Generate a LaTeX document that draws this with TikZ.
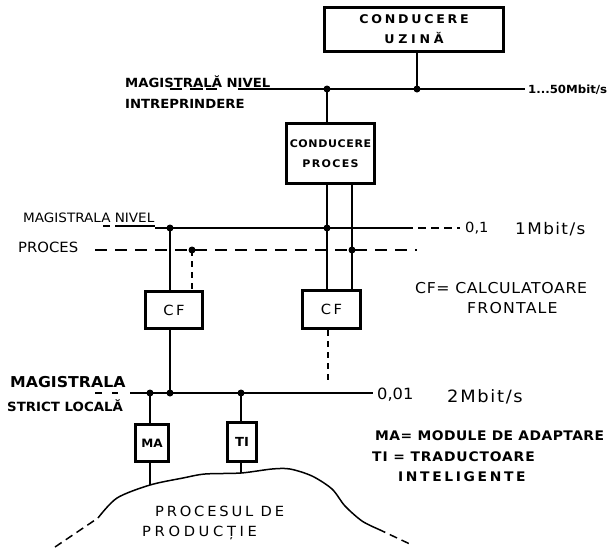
\documentclass[tikz,border=0pt]{standalone}
\usepackage{fontspec}
\newfontfamily\handfont[FakeStretch=1.05]{DejaVu Sans}
\newcommand{\hand}[2]{\handfont\fontsize{#1}{#1}\selectfont\addfontfeature{LetterSpace=#2}}
\newcommand{\handb}[2]{\handfont\bfseries\fontsize{#1}{#1}\selectfont\addfontfeature{LetterSpace=#2}}
\usetikzlibrary{positioning}
\tikzstyle{box} = [rectangle, draw=black, line width=3pt, 
inner sep=0pt, align=center]
\tikzstyle{lbl} = [inner sep=0pt, anchor=base west]
\tikzstyle{bus} = [line width=1.3pt]
\tikzstyle{link} = [line width=1.3pt]
\tikzstyle{junct} = [circle, fill=black, inner sep=0pt, minimum size=7pt]

\begin{document}
\begin{tikzpicture}[x=1pt, y=-1pt]
\useasboundingbox (0,0) rectangle (616,547);

%-------boxes-------------------
\node (uzina) [box, minimum width=179pt, minimum height=44pt, 
font=\handb{12}{23}] at (414,29.5) 
{CONDUCERE \\[8pt] {\addfontfeature{LetterSpace=31}UZINĂ}};

\node (proces) [box, minimum width=88pt, minimum height=60pt, 
font=\handb{10.5}{6}] at (330.5,153.5) 
{CONDUCERE \\[10pt] {\addfontfeature{LetterSpace=13}PROCES}};

\node (cfl) [box, minimum width=57pt, minimum height=37pt, 
font=\hand{14}{19}] at (174,310) {CF};

\node (cfr) [box, minimum width=58pt, minimum height=38pt, 
font=\hand{14}{19}] at (331.5,309.5) {CF};

\node (ma) [box, minimum width=33pt, minimum height=37pt, 
font=\handb{11.5}{0}] at (152,443) {MA};

\node (ti) [box, minimum width=29pt, minimum height=39pt, 
font=\handb{12.5}{0}] at (242,442) {TI};

%-------bus labels-------------------
\node (nivA) [lbl, font=\handb{12.6}{0}] at (125,87) {MAGISTRALĂ NIVEL};
\node (intr) [lbl, font=\handb{12.6}{0}] at (125,108) {INTREPRINDERE};
\node (rate1) [lbl, font=\handb{11.2}{0}] at (528,93) {1...50Mbit/s};

\node (nivB) [lbl, font=\hand{12.9}{0}] at (23,222) {MAGISTRALA NIVEL};
\node (proc) [lbl, font=\hand{14.1}{0}] at (18,252) {PROCES};
\node (rate2a) [lbl, font=\hand{14}{0}] at (465,232) {0,1};
\node (rate2b) [lbl, font=\hand{16}{9}] at (515,234) {1Mbit/s};

\node (magC) [lbl, font=\handb{15}{0}] at (10,387) {MAGISTRALA};
\node (loc) [lbl, font=\handb{12.7}{0}] at (7,411) {STRICT LOCALĂ};
\node (rate4a) [lbl, font=\hand{15.5}{0}] at (377,399) {0,01};
\node (rate4b) [lbl, font=\hand{17}{10}] at (447,402) {2Mbit/s};

%-------legend-------------------
\node (legcf) [lbl, font=\hand{15}{4}] at (415,293) {CF= CALCULATOARE};
\node (legcf2) [lbl, font=\hand{15}{8}] at (467,313) {FRONTALE};
\node (legma) [lbl, font=\handb{13.2}{3.5}] at (375,440) 
{MA= MODULE DE ADAPTARE};
\node (legti) [lbl, font=\handb{13.2}{6.5}] at (372,461) {TI = TRADUCTOARE};
\node (legti2) [lbl, font=\handb{13.2}{20}] at (398,481) {INTELIGENTE};

\node (prod) [lbl, font=\hand{14}{20}] at (155,516) {PROCESUL DE};
\node (prod2) [lbl, font=\hand{14}{26}] at (142,536) {PRODUCȚIE};

%-------bus coordinates-------------------
\coordinate (b1s) at (238,89);
\coordinate (b1e) at (525,89);
\coordinate (b2s) at (155,228);
\coordinate (b2m) at (405,228);
\coordinate (b2e) at (460,228);
\coordinate (b3s) at (95,250);
\coordinate (b3e) at (417,250);
\coordinate (b4s) at (130,393);
\coordinate (b4e) at (373,393);

\coordinate (j1) at (327,89);
\coordinate (j2) at (417,89);
\coordinate (j3) at (327,228);
\coordinate (j4) at (352,250);
\coordinate (j5) at (170,228);
\coordinate (j6) at (192,250);
\coordinate (j7) at (170,393);
\coordinate (j8) at (150,393);
\coordinate (j9) at (241,393);
\coordinate (h1) at (150,485);
\coordinate (h2) at (241,473);
\coordinate (c1) at (328,380);

%-------buses-------------------
\draw [bus] (b1s) -- (b1e);
\draw [bus] (b2s) -- (b2m);
\draw [bus, dash pattern=on 8pt off 5pt] (b2m) -- (b2e);
\draw [bus, dash pattern=on 12pt off 8pt] (b3s) -- (b3e);
\draw [bus] (b4s) -- (b4e);

%-------underlines-------------------
\draw [link] (170,89) -- (182,89) (190,89) -- (203,89) (206,89) -- (217,89);
\draw [link] (103,226) -- (110,226) (115,226) -- (155,226);
\draw [link] (95,393) -- (102,393) (112,393) -- (118,393);

%-------connections-------------------
\draw [link] (uzina.south -| j2) -- (j2);
\draw [link] (j1) -- (j1 |- proces.north);
\draw [link] (proces.south -| j3) -- (cfr.north -| j3);
\draw [link] (proces.south -| j4) -- (cfr.north -| j4);
\draw [link, dash pattern=on 6pt off 5pt] (cfr.south -| c1) -- (c1);
\draw [link] (j5) -- (j5 |- cfl.north);
\draw [link, dash pattern=on 6pt off 5pt] (j6) -- (j6 |- cfl.north);
\draw [link] (cfl.south -| j7) -- (j7);
\draw [link] (j8) -- (j8 |- ma.north);
\draw [link] (ma.south -| j8) -- (h1);
\draw [link] (j9) -- (j9 |- ti.north);
\draw [link] (ti.south -| j9) -- (h2);

%-------junctions-------------------
\foreach \j in {j1,j2,j3,j4,j5,j6,j7,j8,j9}
  \node [junct] at (\j) {};

%-------process curve-------------------
\draw [line width=1.5pt, dash pattern=on 8pt off 5pt] (55,547) -- (98,518);
\draw [line width=1.5pt] plot [smooth] coordinates {(98,518) (117,498) 
(150,485) (183,478) (205,474) (241,473) (272,469) (290,469) (312,476) 
(332,489) (345,506) (362,521) (378,529)};
\draw [line width=1.5pt, dash pattern=on 8pt off 5pt] (378,529) -- (412,545);

\end{tikzpicture}
\end{document}
